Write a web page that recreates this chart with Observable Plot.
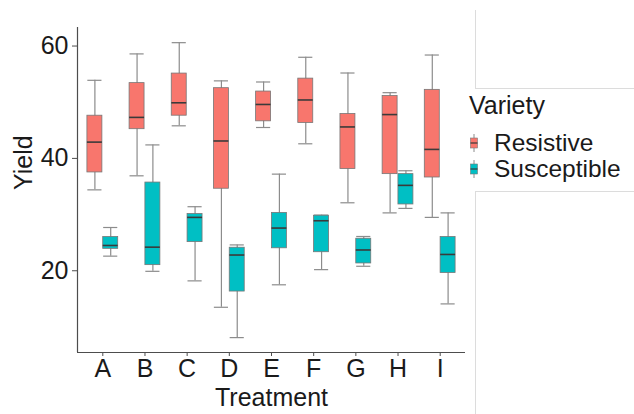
<!DOCTYPE html>
<html>
<head>
<meta charset="utf-8">
<script src="https://cdn.jsdelivr.net/npm/d3@7"></script>
<script src="https://cdn.jsdelivr.net/npm/@observablehq/plot@0.6"></script>
<style>
  html, body { margin: 0; padding: 0; background: #fff; }
  #wrap { position: relative; width: 634px; height: 414px; overflow: hidden; font-family: "Liberation Sans", Arial, sans-serif; }
  .panel { position: absolute; border: 0 solid #dcdcdc; }
  #legend { position: absolute; left: 469px; top: 91px; color: #1a1a1a; }
  #legend .title { font-size: 25px; line-height: 28px; margin-bottom: 11px; }
  #legend .item { display: flex; align-items: center; height: 26px; }
  #legend .item span { display: inline-block; font-size: 24.5px; line-height: 26px; height: 26px; }
  #legend svg { margin-right: 15px; }
</style>
</head>
<body>
<div id="wrap"></div>
<script>
const treatments = ["A", "B", "C", "D", "E", "F", "G", "H", "I"];
const varieties = ["Resistive", "Susceptible"];
const colors = ["#F8766D", "#00BFC4"];

// Resistive five-number summaries
const resLow  = [34.4, 36.9, 45.8, 13.5, 45.5, 42.6, 32.1, 30.3, 29.5];
const resQ1   = [37.5, 45.2, 47.6, 34.6, 46.6, 46.3, 38.1, 37.2, 36.6];
const resMed  = [42.9, 47.3, 49.9, 43.1, 49.6, 50.4, 45.6, 47.8, 41.6];
const resQ3   = [47.6, 53.4, 55.1, 52.5, 51.9, 54.2, 47.9, 51.1, 52.2];
const resHigh = [53.9, 58.6, 60.6, 53.8, 53.6, 58.0, 55.2, 51.7, 58.4];

// Susceptible five-number summaries
const susLow  = [22.6, 19.9, 18.2, 8.1, 17.5, 20.2, 20.8, 31.1, 14.1];
const susQ1   = [23.9, 21.0, 25.1, 16.3, 24.0, 23.3, 21.3, 31.8, 19.6];
const susMed  = [24.5, 24.2, 29.5, 22.8, 27.6, 28.9, 23.7, 35.2, 22.9];
const susQ3   = [26.0, 35.7, 30.1, 24.1, 30.3, 29.8, 25.7, 37.2, 26.0];
const susHigh = [27.7, 42.4, 31.4, 24.6, 37.2, 29.9, 26.1, 37.8, 30.3];

const yTicks = [20, 40, 60];

// ggplot-style dodge: each treatment sits at an integer slot, the two varieties share 0.75 of it
const dodgeWidth = 0.75;
const boxHalf = dodgeWidth / 4 - 0.01;
const capHalf = dodgeWidth / 4 - 0.02;

const rows = [];
treatments.forEach((t, i) => {
  const sets = [
    [resLow, resQ1, resMed, resQ3, resHigh],
    [susLow, susQ1, susMed, susQ3, susHigh]
  ];
  varieties.forEach((v, j) => {
    const [lo, q1, md, q3, hi] = sets[j];
    const pos = i + 1 + (j - 0.5) * dodgeWidth / 2;
    rows.push({treatment: t, variety: v, pos, low: lo[i], q1: q1[i], median: md[i], q3: q3[i], high: hi[i]});
  });
});

const whisker = "#8c8c8c";
const axisColor = "#4d4d4d";

const chart = Plot.plot({
  width: 634,
  height: 414,
  marginLeft: 77,
  marginRight: 169,
  marginTop: 27,
  marginBottom: 62,
  style: {fontFamily: "'Liberation Sans', Arial, sans-serif", fontSize: "25px", color: "#1a1a1a", background: "transparent"},
  x: {domain: [0.4, treatments.length + 0.6], ticks: treatments.map((t, i) => i + 1), tickFormat: d => treatments[d - 1], tickSize: 4, tickPadding: 3, label: null},
  y: {domain: [5.45, 63.3], ticks: yTicks, tickSize: 5, tickPadding: 4, label: null},
  color: {domain: varieties, range: colors},
  marks: [
    Plot.axisX({ticks: treatments.map((t, i) => i + 1), tickFormat: d => treatments[d - 1], tickSize: 4, tickPadding: 3, stroke: axisColor, fill: "#1a1a1a", label: null}),
    Plot.axisY({ticks: yTicks, tickSize: 5, tickPadding: 4, stroke: axisColor, fill: "#1a1a1a", label: null}),
    Plot.ruleY([5.45], {stroke: axisColor, strokeWidth: 1.2}),
    Plot.ruleX([0.4], {stroke: axisColor, strokeWidth: 1.2}),
    Plot.ruleX(rows, {x: "pos", y1: "low", y2: "high", stroke: whisker, strokeWidth: 1.2}),
    Plot.ruleY(rows, {y: "high", x1: d => d.pos - capHalf, x2: d => d.pos + capHalf, stroke: whisker, strokeWidth: 1.2}),
    Plot.ruleY(rows, {y: "low", x1: d => d.pos - capHalf, x2: d => d.pos + capHalf, stroke: whisker, strokeWidth: 1.2}),
    Plot.rectY(rows, {x1: d => d.pos - boxHalf, x2: d => d.pos + boxHalf, y1: "q1", y2: "q3", fill: "variety", stroke: "#777", strokeWidth: 0.8}),
    Plot.ruleY(rows, {y: "median", x1: d => d.pos - boxHalf, x2: d => d.pos + boxHalf, stroke: "#3a3a3a", strokeWidth: 1.6}),
    Plot.text(["Treatment"], {text: d => d, frameAnchor: "bottom", dy: 53, fontSize: 25, fill: "#1a1a1a"}),
    Plot.text(["Yield"], {text: d => d, frameAnchor: "left", dx: -54, rotate: -90, fontSize: 25, fill: "#1a1a1a"})
  ]
});

const wrap = document.getElementById("wrap");
wrap.appendChild(chart);

// faint panel borders at right (as in the reference screenshot)
const p1 = document.createElement("div");
p1.className = "panel";
Object.assign(p1.style, {left: "475px", top: "10px", width: "170px", height: "78px", borderLeftWidth: "1px", borderBottomWidth: "1px"});
wrap.appendChild(p1);
const p2 = document.createElement("div");
p2.className = "panel";
Object.assign(p2.style, {left: "475px", top: "191px", width: "170px", height: "240px", borderLeftWidth: "1px", borderTopWidth: "1px"});
wrap.appendChild(p2);

// legend
const legend = document.createElement("div");
legend.id = "legend";
const title = document.createElement("div");
title.className = "title";
title.textContent = "Variety";
legend.appendChild(title);
varieties.forEach((v, i) => {
  const item = document.createElement("div");
  item.className = "item";
  const s = d3.create("svg").attr("width", 10).attr("height", 22);
  s.append("line").attr("x1", 5).attr("x2", 5).attr("y1", 2).attr("y2", 20).attr("stroke", whisker).attr("stroke-width", 1);
  s.append("rect").attr("x", 1.5).attr("y", 6).attr("width", 7).attr("height", 10).attr("fill", colors[i]).attr("stroke", "#777").attr("stroke-width", 0.6);
  s.append("line").attr("x1", 1.5).attr("x2", 8.5).attr("y1", 11).attr("y2", 11).attr("stroke", "#3a3a3a").attr("stroke-width", 1.2);
  item.appendChild(s.node());
  const label = document.createElement("span");
  label.textContent = v;
  item.appendChild(label);
  legend.appendChild(item);
});
wrap.appendChild(legend);
</script>
</body>
</html>
